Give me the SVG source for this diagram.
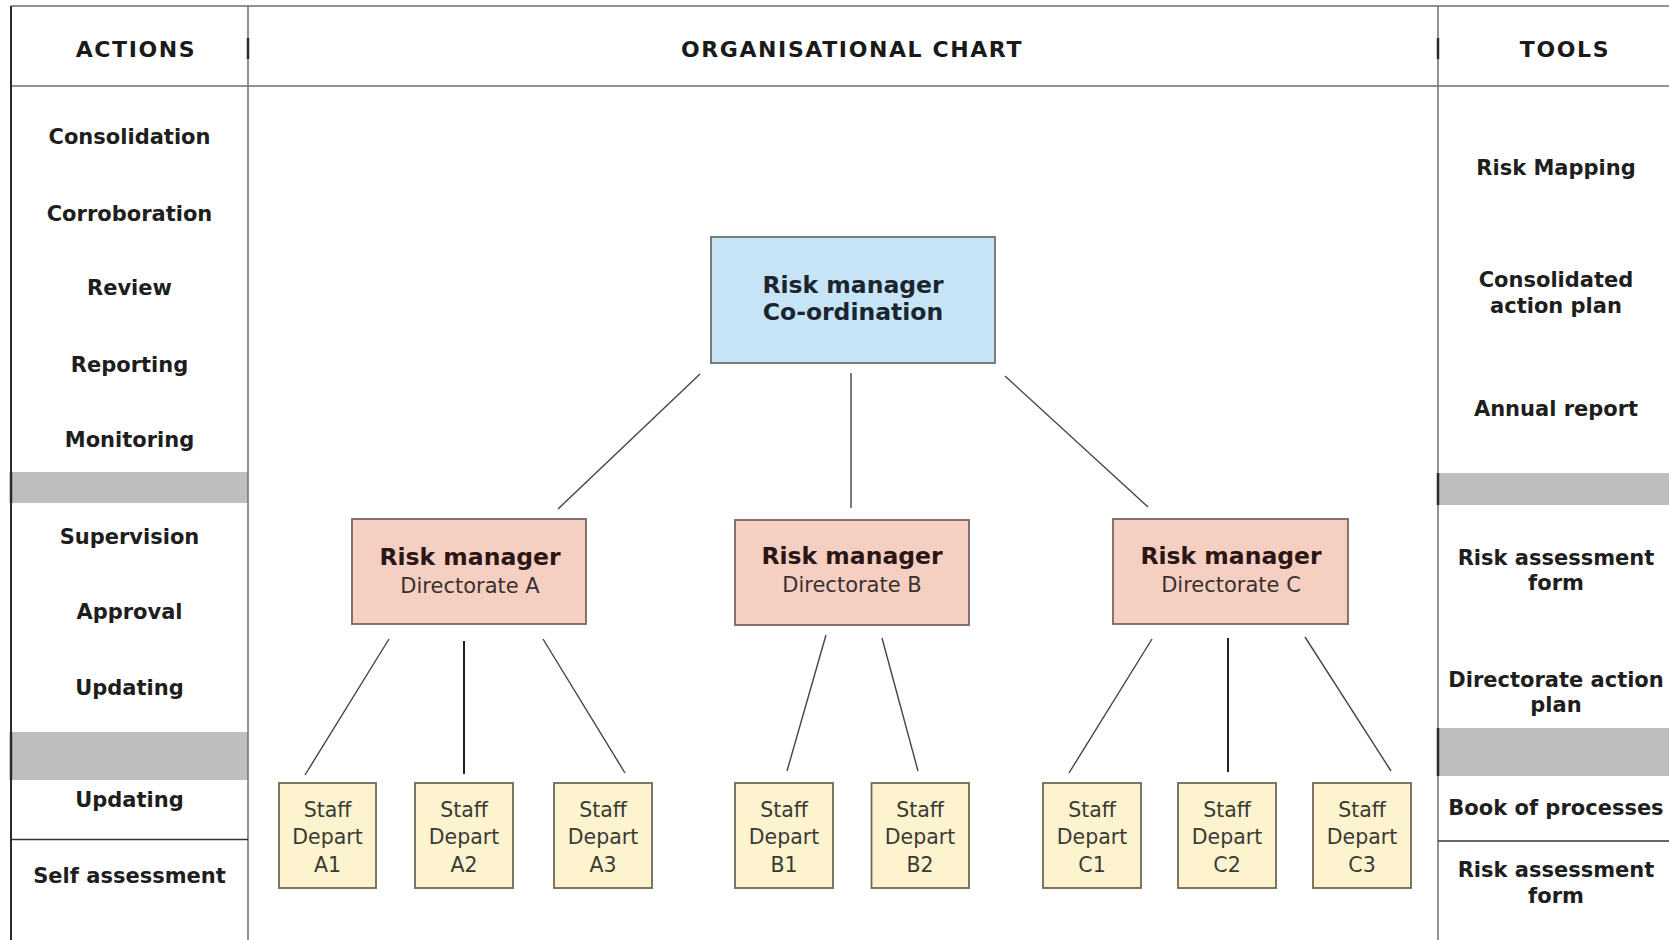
<svg xmlns="http://www.w3.org/2000/svg" width="1669" height="940" viewBox="0 0 1669 940">
  <style>
    .grid { stroke: #6e6e6e; stroke-width: 1.5; fill: none; }
    .edge { stroke: #2a2a2a; stroke-width: 2.5; fill: none; }
    .band { fill: #bcbec0; }
    .head { font-family: "DejaVu Sans", Verdana, sans-serif; font-weight: bold; font-size: 22px; letter-spacing: 1.6px; fill: #1a1a1a; text-anchor: middle; }
    .col { font-family: "DejaVu Sans", Verdana, sans-serif; font-weight: bold; font-size: 21px; fill: #1e1e1e; text-anchor: middle; }
    .coord rect { fill: #c7e5f7; stroke: #6a6f73; stroke-width: 1.8; }
    .dir rect { fill: #f5cfc2; stroke: #7d6561; stroke-width: 1.8; }
    .staff rect { fill: #fdf4cf; stroke: #6e6a55; stroke-width: 1.8; }
    .t-b { font-family: "DejaVu Sans", Verdana, sans-serif; font-weight: bold; font-size: 23.5px; text-anchor: middle; }
    .coord .t-b { fill: #1b2530; }
    .dir .t-b { fill: #2a1614; }
    .t-r { font-family: "DejaVu Sans", Verdana, sans-serif; font-size: 21px; fill: #3a302e; text-anchor: middle; }
    .t-s { font-family: "DejaVu Sans", Verdana, sans-serif; font-size: 20.5px; fill: #3a3a33; text-anchor: middle; }
    .link { stroke: #444; stroke-width: 1.4; fill: none; }
    .link.v { stroke: #222; stroke-width: 2; }
  </style>

  <rect width="1669" height="940" fill="#ffffff"/>

  <!-- table frame: header row and three columns -->
  <g id="table">
    <rect class="band" x="11" y="472" width="237" height="31"/>
    <rect class="band" x="11" y="732" width="237" height="48"/>
    <rect class="band" x="1438" y="473" width="231" height="32"/>
    <rect class="band" x="1438" y="728" width="231" height="48"/>

    <line class="grid" x1="11" y1="6" x2="1669" y2="6"/>
    <line class="grid" x1="11" y1="86" x2="1669" y2="86"/>
    <line class="edge" x1="11" y1="6" x2="11" y2="940" style="stroke-width:2"/>
    <line class="grid" x1="248" y1="6" x2="248" y2="940"/>
    <line class="grid" x1="1438" y1="6" x2="1438" y2="940"/>
    <line class="grid" x1="11" y1="839.5" x2="248" y2="839.5" style="stroke:#333"/>
    <line class="grid" x1="1438" y1="841" x2="1669" y2="841" style="stroke:#333"/>

    <!-- dark ticks in the header and on the shaded bands -->
    <line class="edge" x1="248" y1="38" x2="248" y2="59"/>
    <line class="edge" x1="1438" y1="38" x2="1438" y2="59"/>
    <line class="edge" x1="11" y1="472" x2="11" y2="503"/>
    <line class="edge" x1="11" y1="732" x2="11" y2="780"/>
    <line class="edge" x1="1438" y1="473" x2="1438" y2="505"/>
    <line class="edge" x1="1438" y1="728" x2="1438" y2="776"/>
  </g>

  <g id="headers">
    <text class="head" x="136" y="57">ACTIONS</text>
    <text class="head" x="852" y="57">ORGANISATIONAL CHART</text>
    <text class="head" x="1565" y="57">TOOLS</text>
  </g>

  <g id="actions">
    <text class="col" x="129.5" y="144">Consolidation</text>
    <text class="col" x="129.5" y="221">Corroboration</text>
    <text class="col" x="129.5" y="295">Review</text>
    <text class="col" x="129.5" y="372">Reporting</text>
    <text class="col" x="129.5" y="447">Monitoring</text>
    <text class="col" x="129.5" y="544">Supervision</text>
    <text class="col" x="129.5" y="619">Approval</text>
    <text class="col" x="129.5" y="695">Updating</text>
    <text class="col" x="129.5" y="807">Updating</text>
    <text class="col" x="129.5" y="883">Self assessment</text>
  </g>

  <g id="tools">
    <text class="col" x="1556" y="175">Risk Mapping</text>
    <text class="col" x="1556" y="287">Consolidated</text>
    <text class="col" x="1556" y="313">action plan</text>
    <text class="col" x="1556" y="416">Annual report</text>
    <text class="col" x="1556" y="565">Risk assessment</text>
    <text class="col" x="1556" y="590">form</text>
    <text class="col" x="1556" y="687">Directorate action</text>
    <text class="col" x="1556" y="712">plan</text>
    <text class="col" x="1556" y="815">Book of processes</text>
    <text class="col" x="1556" y="877">Risk assessment</text>
    <text class="col" x="1556" y="903">form</text>
  </g>

  <!-- connectors -->
  <g id="connectors">
    <line class="link" x1="700" y1="374" x2="558" y2="509"/>
    <line class="link" x1="851" y1="373" x2="851" y2="508"/>
    <line class="link" x1="1005" y1="376" x2="1148" y2="507"/>

    <line class="link" x1="389" y1="639" x2="305" y2="775"/>
    <line class="link v" x1="464" y1="641" x2="464" y2="774"/>
    <line class="link" x1="543" y1="639" x2="625" y2="773"/>

    <line class="link" x1="826" y1="635" x2="787" y2="771"/>
    <line class="link" x1="882" y1="638" x2="918" y2="771"/>

    <line class="link" x1="1152" y1="639" x2="1069" y2="773"/>
    <line class="link v" x1="1228" y1="638" x2="1228" y2="772"/>
    <line class="link" x1="1305" y1="637" x2="1391" y2="771"/>
  </g>

  <g id="rm-coordination" class="coord">
    <rect x="711" y="237" width="284" height="126"/>
    <text class="t-b" x="853" y="293">Risk manager</text>
    <text class="t-b" x="853" y="320">Co-ordination</text>
  </g>

  <g id="rm-directorate-a" class="dir">
    <rect x="352" y="519" width="234" height="105"/>
    <text class="t-b" x="470" y="565">Risk manager</text>
    <text class="t-r" x="470" y="593">Directorate A</text>
  </g>
  <g id="rm-directorate-b" class="dir">
    <rect x="735" y="520" width="234" height="105"/>
    <text class="t-b" x="852" y="564">Risk manager</text>
    <text class="t-r" x="852" y="592">Directorate B</text>
  </g>
  <g id="rm-directorate-c" class="dir">
    <rect x="1113" y="519" width="235" height="105"/>
    <text class="t-b" x="1231" y="564">Risk manager</text>
    <text class="t-r" x="1231" y="592">Directorate C</text>
  </g>

  <g id="staff-a1" class="staff">
    <rect x="279" y="783" width="97" height="105"/>
    <text class="t-s" x="327.5" y="817">Staff</text>
    <text class="t-s" x="327.5" y="844">Depart</text>
    <text class="t-s" x="327.5" y="872">A1</text>
  </g>
  <g id="staff-a2" class="staff">
    <rect x="415" y="783" width="98" height="105"/>
    <text class="t-s" x="464" y="817">Staff</text>
    <text class="t-s" x="464" y="844">Depart</text>
    <text class="t-s" x="464" y="872">A2</text>
  </g>
  <g id="staff-a3" class="staff">
    <rect x="554" y="783" width="98" height="105"/>
    <text class="t-s" x="603" y="817">Staff</text>
    <text class="t-s" x="603" y="844">Depart</text>
    <text class="t-s" x="603" y="872">A3</text>
  </g>
  <g id="staff-b1" class="staff">
    <rect x="735" y="783" width="98" height="105"/>
    <text class="t-s" x="784" y="817">Staff</text>
    <text class="t-s" x="784" y="844">Depart</text>
    <text class="t-s" x="784" y="872">B1</text>
  </g>
  <g id="staff-b2" class="staff">
    <rect x="871.5" y="783" width="97.5" height="105"/>
    <text class="t-s" x="920" y="817">Staff</text>
    <text class="t-s" x="920" y="844">Depart</text>
    <text class="t-s" x="920" y="872">B2</text>
  </g>
  <g id="staff-c1" class="staff">
    <rect x="1043" y="783" width="98" height="105"/>
    <text class="t-s" x="1092" y="817">Staff</text>
    <text class="t-s" x="1092" y="844">Depart</text>
    <text class="t-s" x="1092" y="872">C1</text>
  </g>
  <g id="staff-c2" class="staff">
    <rect x="1178" y="783" width="98" height="105"/>
    <text class="t-s" x="1227" y="817">Staff</text>
    <text class="t-s" x="1227" y="844">Depart</text>
    <text class="t-s" x="1227" y="872">C2</text>
  </g>
  <g id="staff-c3" class="staff">
    <rect x="1313" y="783" width="98" height="105"/>
    <text class="t-s" x="1362" y="817">Staff</text>
    <text class="t-s" x="1362" y="844">Depart</text>
    <text class="t-s" x="1362" y="872">C3</text>
  </g>
</svg>
